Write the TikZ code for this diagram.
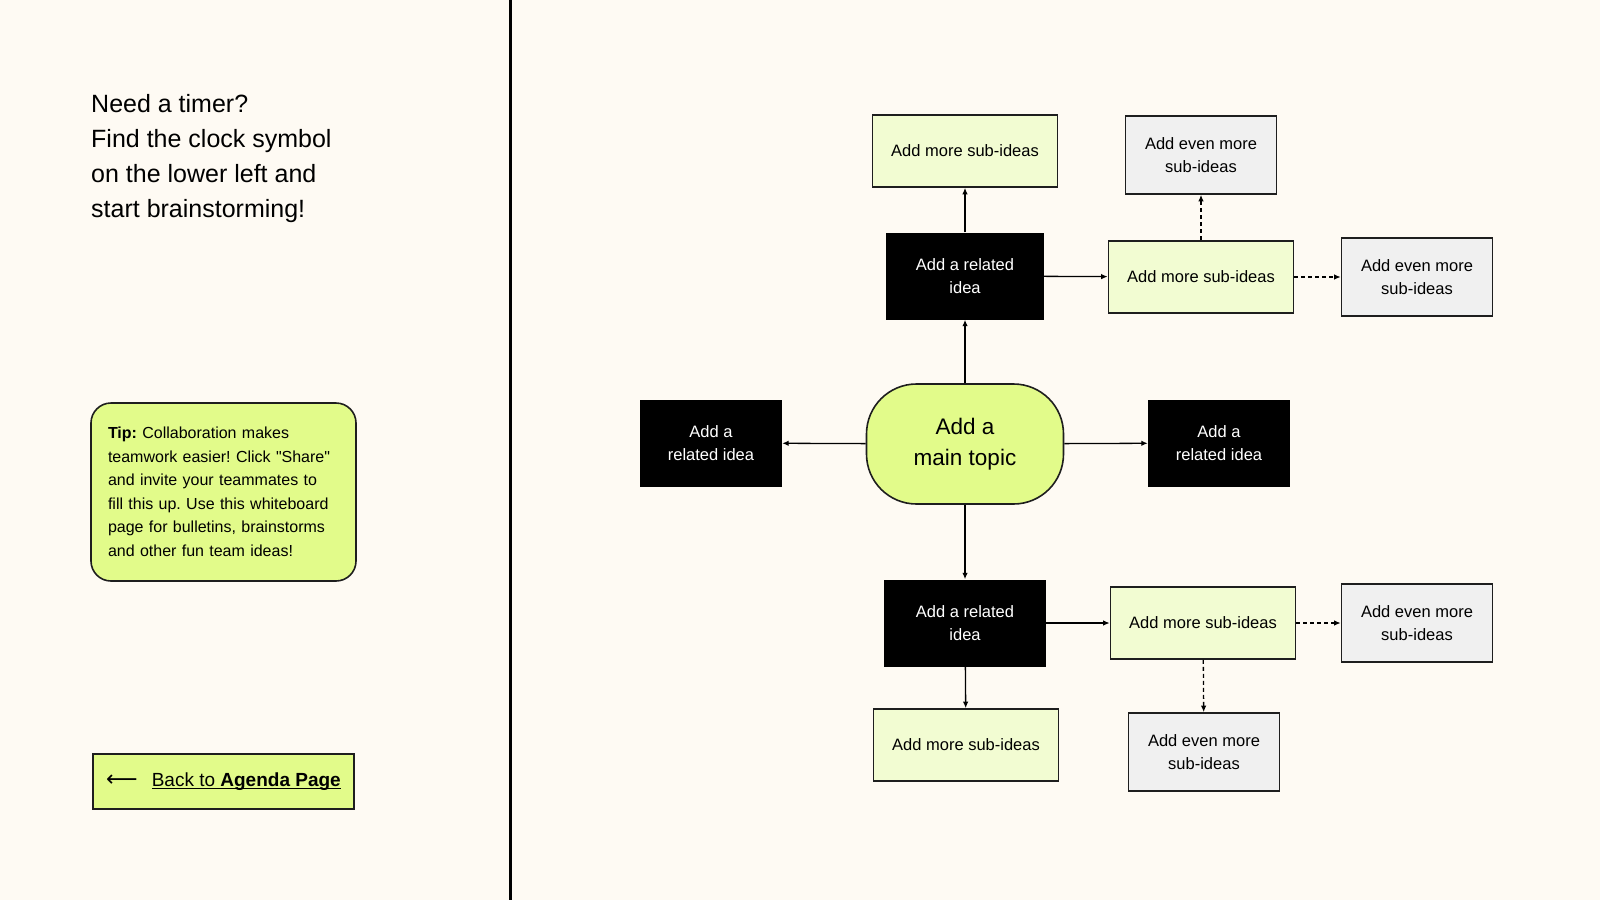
\documentclass[tikz,border=0pt]{standalone}
\usepackage{fontspec}
\setmainfont{Liberation Sans}[Ligatures=TeXOff]
\newfontfamily\arrowfont{DejaVu Sans}
\usetikzlibrary{arrows.meta}
\definecolor{paper}{HTML}{FEFAF3}
\definecolor{lime}{HTML}{E2FB8A}
\definecolor{palelime}{HTML}{F2FCD2}
\definecolor{evengray}{HTML}{F0F0F0}
\definecolor{edge}{HTML}{1E1E1E}
\frenchspacing
\newcommand\linkline[1]{\setbox0\hbox{#1}\rlap{\rule[-2.6pt]{\wd0}{1.3pt}}\box0}
\tikzset{
  boxfont/.style={font=\fontsize{16.5}{23.5}\selectfont},
  relidea/.style={fill=black, text=white, minimum width=158pt, minimum height=87pt, align=center, inner sep=0pt, boxfont},
  subidea/.style={draw=edge, line width=1.6pt, fill=palelime, minimum width=185pt, minimum height=72pt, align=center, inner sep=0pt, boxfont},
  evenidea/.style={draw=edge, line width=1.6pt, fill=evengray, minimum width=151pt, minimum height=78pt, align=center, inner sep=0pt, boxfont},
  maintopic/.style={draw=edge, line width=1.6pt, fill=lime, rounded corners=50pt, minimum width=197pt, minimum height=120pt, align=center, inner sep=0pt, font=\fontsize{22.5}{30.6}\selectfont},
  link/.style={draw=black, line width=1.3pt, -{Latex[length=6.5pt,width=5.5pt]}},
  dashlink/.style={link, dash pattern=on 4pt off 3pt}
}
\begin{document}
\begin{tikzpicture}[x=1pt,y=-1pt]
  \fill[paper] (0,0) rectangle (1600,900);
  \useasboundingbox (0,0) rectangle (1600,900);
  % left panel
  \node[anchor=north west, inner sep=0pt, align=left, font=\fontsize{25}{35}\selectfont] (timer) at (91,94)
    {Need a timer?\\Find the clock symbol\\on the lower left and\\start brainstorming!};
  \node[draw=edge, line width=1.6pt, fill=lime, rounded corners=20pt, minimum width=265pt, minimum height=178pt,
        text width=231pt, inner xsep=17pt, inner ysep=0pt, align=left, font=\fontsize{16}{23.5}\selectfont] (tip) at (223.5,492)
    {\textbf{Tip:} Collaboration makes\\teamwork easier! Click "Share"\\and invite your teammates to\\fill this up. Use this whiteboard\\page for bulletins, brainstorms\\and other fun team ideas!};
  \node[draw=edge, line width=1.6pt, fill=lime, minimum width=261pt, minimum height=55pt, inner sep=0pt,
        font=\fontsize{19}{23}\selectfont] (back) at (223.5,781.5)
    {{\arrowfont\fontsize{22}{23}\selectfont ⟵}\hspace{14pt}\linkline{Back to \textbf{Agenda Page}}};
  \draw[line width=3pt, black] (510,0) -- (510,900);
  % mind map
  \node[maintopic] (main) at (965,444) {Add a\\main topic};
  \node[relidea, minimum width=142pt] (relL) at (711,443) {Add a\\related idea};
  \node[relidea, minimum width=142pt] (relR) at (1219,443) {Add a\\related idea};
  \node[relidea] (relT) at (965,276) {Add a related\\idea};
  \node[relidea, minimum width=162pt] (relB) at (965,623) {Add a related\\idea};
  \node[subidea] (subT) at (965,151) {Add more sub-ideas};
  \node[subidea] (subTR) at (1201,277) {Add more sub-ideas};
  \node[evenidea] (evenTU) at (1201,155) {Add even more\\sub-ideas};
  \node[evenidea] (evenTR) at (1417,277) {Add even more\\sub-ideas};
  \node[subidea] (subBR) at (1203,623) {Add more sub-ideas};
  \node[evenidea] (evenBR) at (1417,623) {Add even more\\sub-ideas};
  \node[evenidea] (evenBD) at (1204,752) {Add even more\\sub-ideas};
  \node[subidea] (subB) at (966,745) {Add more sub-ideas};
  \draw[link] (main) -- (relL);
  \draw[link] (main) -- (relR);
  \draw[link] (main) -- (relT);
  \draw[link] (main) -- (relB);
  \draw[link] (relT) -- (subT);
  \draw[link] (relT) -- (subTR);
  \draw[dashlink] (subTR) -- (evenTU);
  \draw[dashlink] (subTR) -- (evenTR);
  \draw[link] (relB) -- (subBR);
  \draw[link] (relB) -- (subB);
  \draw[dashlink] (subBR) -- (evenBR);
  \draw[dashlink] (subBR) -- (evenBD);
\end{tikzpicture}
\end{document}
